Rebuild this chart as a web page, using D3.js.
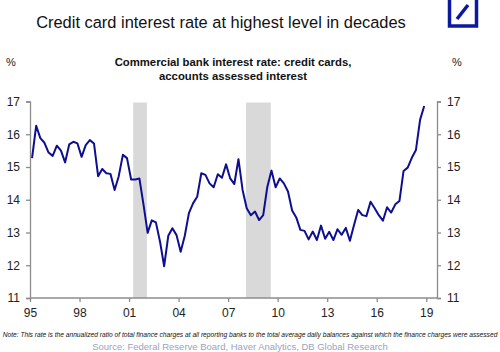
<!DOCTYPE html>
<html><head><meta charset="utf-8">
<script src="https://cdn.jsdelivr.net/npm/d3@7"></script>
<style>
html,body{margin:0;padding:0;background:#fff;}
svg{display:block;font-family:"Liberation Sans",Arial,sans-serif;}
</style></head>
<body><svg id="c" width="500" height="352"></svg>
<script>
// Quarterly values, 1995Q1 .. 2018Q4 (%)
const startYear = 1995;
const rates = [
15.27,16.26,15.88,15.74, 15.44,15.34,15.65,15.50, 15.14,15.69,15.77,15.72,
15.31,15.67,15.82,15.72, 14.72,14.94,14.81,14.79, 14.30,14.72,15.37,15.27,
14.62,14.62,14.65,13.85, 12.99,13.37,13.31,12.72, 11.97,12.90,13.13,12.92,
12.41,12.90,13.59,13.89, 14.09,14.81,14.76,14.50, 14.38,14.78,14.67,15.08,
14.65,14.48,15.24,14.30, 13.74,13.53,13.64,13.38, 13.53,14.40,14.89,14.38,
14.65,14.50,14.25,13.67, 13.46,13.08,13.05,12.79, 13.03,12.77,13.21,12.81,
13.02,12.77,13.10,12.93, 13.14,12.75,13.23,13.69, 13.53,13.50,13.94,13.74,
13.53,13.36,13.77,13.61, 13.86,13.96,14.88,14.98, 15.28,15.52,16.44,16.86
];
const recessions = [[2001.25, 2002.08], [2008.08, 2009.58]];
const xTickYears = [1995, 1998, 2001, 2004, 2007, 2010, 2013, 2016, 2019];
const yTicks = [11, 12, 13, 14, 15, 16, 17];

const title = "Credit card interest rate at highest level in decades";
const subtitle1 = "Commercial bank interest rate: credit cards,";
const subtitle2 = "accounts assessed interest";
const note = "Note: This rate is the annualized ratio of total finance charges at all reporting banks to the total average daily balances against which the finance charges were assessed";
const source = "Source: Federal Reserve Board, Haver Analytics, DB Global Research";

const data = rates.map((v, i) => ({t: startYear + i * 0.25 + 0.125, v}));

const svg = d3.select("#c");
const L = 30, R = 437, T = 101.5, B = 298;
const x = d3.scaleLinear().domain([1995, 2019.65]).range([L, R]);
const y = d3.scaleLinear().domain([11, 17]).range([B, T]);
const axisCol = "#8c8c8c";

// recession bands
svg.append("g").selectAll("rect").data(recessions).join("rect")
  .attr("x", d => x(d[0])).attr("width", d => x(d[1]) - x(d[0]))
  .attr("y", y(17) + 1).attr("height", y(11) - y(17) - 1)
  .attr("fill", "#d9d9d9");

// axes
const fmtYr = d => String(d % 100).padStart(2, "0");
const gx = svg.append("g").attr("transform", `translate(0,${B})`)
  .call(d3.axisBottom(x).tickValues(xTickYears).tickFormat(fmtYr).tickSizeOuter(0).tickSize(4).tickPadding(6));
const gl = svg.append("g").attr("transform", `translate(${L},0)`)
  .call(d3.axisLeft(y).tickValues(yTicks).tickFormat(d3.format("d")).tickSizeOuter(0).tickSize(4).tickPadding(6));
const gr = svg.append("g").attr("transform", `translate(${R},0)`)
  .call(d3.axisRight(y).tickValues(yTicks).tickFormat(d3.format("d")).tickSizeOuter(0).tickSize(4).tickPadding(6));
[gx, gl, gr].forEach(g => {
  g.selectAll("path,line").attr("stroke", axisCol).attr("stroke-width", 1.3);
  g.selectAll("text").attr("font-size", 12).attr("fill", "#222")
    .attr("font-family", '"Liberation Sans",Arial,sans-serif');
});
gx.select(".domain").attr("d", `M${L},0H${R}`);

// line
svg.append("path").datum(data)
  .attr("fill", "none").attr("stroke", "#0e0e90").attr("stroke-width", 2)
  .attr("stroke-linejoin", "round")
  .attr("d", d3.line().x(d => x(d.t)).y(d => y(d.v)));

// fit helper
function fit(sel, w) {
  const len = sel.node().getComputedTextLength();
  const fs = parseFloat(sel.attr("font-size"));
  sel.attr("font-size", fs * w / len);
}

// titles
const tt = svg.append("text").attr("x", 221).attr("y", 27.5).attr("text-anchor", "middle")
  .attr("font-size", 16.5).attr("fill", "#111").text(title);
fit(tt, 370);
const s1 = svg.append("text").attr("x", 233).attr("y", 66).attr("text-anchor", "middle")
  .attr("font-size", 11.3).attr("font-weight", "bold").attr("fill", "#111").text(subtitle1);
fit(s1, 237);
svg.append("text").attr("x", 233).attr("y", 80).attr("text-anchor", "middle")
  .attr("font-size", s1.attr("font-size")).attr("font-weight", "bold").attr("fill", "#111").text(subtitle2);
svg.append("text").attr("x", 11).attr("y", 66).attr("text-anchor", "middle")
  .attr("font-size", 11).attr("fill", "#222").text("%");
svg.append("text").attr("x", 457).attr("y", 66).attr("text-anchor", "middle")
  .attr("font-size", 11).attr("fill", "#222").text("%");

// note & source
const nt = svg.append("text").attr("x", 250).attr("y", 337).attr("text-anchor", "middle")
  .attr("font-size", 7).attr("font-style", "italic").attr("fill", "#111").text(note);
fit(nt, 496);
const st = svg.append("text").attr("x", 240).attr("y", 349.5).attr("text-anchor", "middle")
  .attr("font-size", 10).attr("fill", "#9aa3bd").text(source);
fit(st, 296);

// DB logo
const lg = svg.append("g");
lg.append("rect").attr("x", 449.5).attr("y", -3).attr("width", 27).attr("height", 29)
  .attr("fill", "#fff").attr("stroke", "#0a1aa0").attr("stroke-width", 3.5);
lg.append("line").attr("x1", 457).attr("y1", 19).attr("x2", 468).attr("y2", 5)
  .attr("stroke", "#0a1aa0").attr("stroke-width", 3.5);
</script>
</body></html>
